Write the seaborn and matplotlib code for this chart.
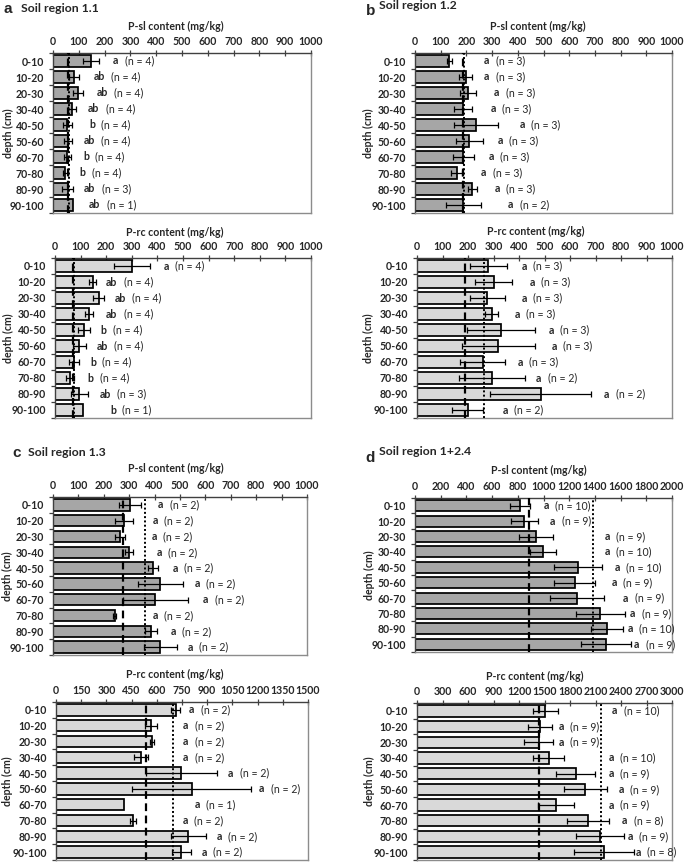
import numpy as np
import pandas as pd
import matplotlib
matplotlib.use("Agg")
import matplotlib.pyplot as plt
import seaborn as sns

# ---------------- data ----------------
depths = ["0-10", "10-20", "20-30", "30-40", "40-50", "50-60", "60-70", "70-80", "80-90", "90-100"]

# Panel a: Soil region 1.1
a_sl = [146, 82, 97, 74, 56, 58, 56, 47, 57, 78]
a_sl_err = [31, 19, 18, 14, 17, 14, 15, 10, 21, 0]
a_sl_let = ["a", "ab", "ab", "ab", "b", "ab", "b", "b", "ab", "ab"]
a_sl_n = [4, 4, 4, 4, 4, 4, 4, 4, 3, 1]
a_sl_lab = [233, 158, 168, 136, 140, 119, 117, 104, 121, 140]
a_sl_ref = (58, 62)

a_rc = [302, 147, 170, 133, 113, 95, 74, 59, 95, 108]
a_rc_err = [70, 15, 20, 16, 22, 25, 19, 15, 32, 0]
a_rc_let = ["a", "ab", "ab", "ab", "b", "ab", "b", "b", "ab", "b"]
a_rc_n = [4, 4, 4, 4, 4, 4, 4, 4, 3, 1]
a_rc_lab = [424, 199, 232, 199, 179, 163, 137, 126, 173, 215]
a_rc_ref = (70, 73)

# Panel b: Soil region 1.2
b_sl = [134, 197, 206, 188, 238, 212, 188, 162, 223, 188]
b_sl_err = [10, 26, 32, 35, 85, 53, 42, 20, 18, 69]
b_sl_let = ["a"] * 10
b_sl_n = [3, 3, 3, 3, 3, 3, 3, 3, 3, 2]
b_sl_lab = [269, 269, 308, 295, 406, 321, 286, 257, 310, 362]
b_sl_ref = (186, 191)

b_rc = [280, 300, 276, 293, 330, 319, 257, 293, 485, 199]
b_rc_err = [74, 74, 70, 26, 133, 143, 90, 129, 198, 60]
b_rc_let = ["a"] * 10
b_rc_n = [3, 3, 3, 3, 3, 3, 3, 2, 2, 2]
b_rc_lab = [411, 441, 411, 382, 515, 528, 394, 467, 733, 336]
b_rc_ref = (190, 263)

# Panel c: Soil region 1.3
c_sl = [302, 278, 265, 299, 394, 423, 402, 243, 387, 423]
c_sl_err = [44, 35, 20, 15, 20, 90, 128, 5, 24, 65]
c_sl_let = ["a"] * 10
c_sl_n = [2] * 10
c_sl_lab = [413, 391, 387, 407, 470, 558, 591, 391, 462, 531]
c_sl_ref = (276, 362)

c_rc = [713, 565, 571, 505, 747, 807, 406, 460, 787, 745]
c_rc_err = [27, 37, 12, 40, 212, 352, 0, 17, 105, 56]
c_rc_let = ["a"] * 10
c_rc_n = [2, 2, 2, 2, 2, 2, 1, 2, 2, 2]
c_rc_lab = [793, 757, 757, 757, 1025, 1209, 826, 753, 955, 866]
c_rc_ref = (535, 698)

# Panel d: Soil region 1+2.4
d_sl = [818, 852, 943, 995, 1268, 1242, 1260, 1442, 1494, 1486]
d_sl_err = [75, 108, 130, 100, 190, 158, 208, 192, 127, 192]
d_sl_let = ["a"] * 10
d_sl_n = [10, 9, 9, 10, 10, 9, 9, 9, 10, 9]
d_sl_lab = [1000, 1052, 1473, 1473, 1551, 1532, 1618, 1675, 1655, 1706]
d_sl_ref = (891, 1384)

d_rc = [1510, 1451, 1431, 1549, 1867, 1980, 1635, 2008, 2149, 2196]
d_rc_err = [150, 140, 172, 184, 232, 255, 212, 245, 284, 353]
d_rc_let = ["a"] * 10
d_rc_n = [10, 9, 9, 10, 9, 9, 9, 8, 9, 8]
d_rc_lab = [2294, 1667, 1667, 2255, 2255, 2373, 2255, 2412, 2478, 2569]
d_rc_ref = (1439, 2165)

# ---------------- style ----------------
sns.set_theme(style="white")
plt.rcParams["font.family"] = ["Lato", "DejaVu Sans"]
plt.rcParams["axes.linewidth"] = 1.0

W, H = 685, 864
fig = plt.figure(figsize=(W / 100, H / 100), dpi=100)

SL_COLOR = "#a6a6a6"
RC_COLOR = "#d9d9d9"
FS = 7.6


def px_axes(l, r, t, b):
    return [l / W, 1 - b / H, (r - l) / W, (b - t) / H]


def draw_panel(box, vals, errs, lets, ns, labx, refs, xmax, step, color, xlabel,
               xlab_cx, xlab_dy, ylab_x):
    l, r, t, b = box
    ax = fig.add_axes(px_axes(l, r, t, b))
    df = pd.DataFrame({"depth": depths, "value": vals})
    sns.barplot(data=df, x="value", y="depth", orient="h", color=color,
                saturation=1, width=0.72, edgecolor="black", linewidth=1.25,
                errorbar=None, ax=ax)
    ypos = np.arange(len(depths))
    mask = np.array(errs) > 0
    ax.errorbar(np.array(vals)[mask], ypos[mask], xerr=np.array(errs)[mask],
                fmt="none", ecolor="black", elinewidth=0.9, capsize=2,
                capthick=0.9, zorder=4)
    ax.axvline(refs[0], color="black", lw=1.6, ls=(0, (3.5, 2)), zorder=5)
    ax.axvline(refs[1], color="black", lw=1.4, ls=(0, (1, 1.2)), zorder=5)

    for y, x, let, n in zip(ypos, labx, lets, ns):
        t1 = ax.text(x, y, let, fontsize=FS, fontweight="bold", va="center",
                     ha="left", zorder=6)
        ax.annotate(f"(n = {n})", xy=(1, 0.5), xycoords=t1, xytext=(4.5, 0),
                    textcoords="offset points", fontsize=FS, va="center",
                    ha="left", zorder=6)

    ax.set_xlim(0, xmax)
    ax.set_ylim(len(depths) - 0.5, -0.5)
    ax.xaxis.tick_top()
    ax.xaxis.set_label_position("top")
    ticks = np.arange(0, xmax + 1, step)
    ax.set_xticks(ticks)
    ax.set_xticklabels([str(int(v)) for v in ticks], fontweight="bold", fontsize=FS)
    ax.tick_params(axis="x", which="major", top=True, bottom=False,
                   direction="inout", length=4, width=0.9, pad=2.5,
                   color="#404040")
    ax.set_yticks(np.arange(-0.5, len(depths), 1))
    ax.set_yticklabels([])
    ax.set_yticks(ypos, minor=True)
    ax.set_yticklabels(depths, minor=True, fontweight="bold", fontsize=FS)
    ax.tick_params(axis="y", which="major", left=True, direction="out",
                   length=3, width=0.9, color="#404040")
    ax.tick_params(axis="y", which="minor", left=True, length=0, pad=6.5)

    ax.set_xlabel(xlabel, fontweight="bold", fontsize=FS)
    ax.xaxis.set_label_coords((xlab_cx - l) / (r - l), 1 + xlab_dy / (b - t))
    ax.set_ylabel("depth (cm)", fontweight="bold", fontsize=FS)
    ax.yaxis.set_label_coords((ylab_x - l) / (r - l), 0.5)
    ax.xaxis.label.set_va("center")
    ax.yaxis.label.set_va("center")

    for side in ["left", "top"]:
        ax.spines[side].set_color("#404040")
    for side in ["right", "bottom"]:
        ax.spines[side].set_color("#8c8c8c")
    ax.grid(False)
    return ax


# Panel a
draw_panel((53, 311, 53, 213), a_sl, a_sl_err, a_sl_let, a_sl_n, a_sl_lab, a_sl_ref,
           1000, 100, SL_COLOR, "P-sl content (mg/kg)", 176, 27, 8)
draw_panel((55, 311, 258, 418), a_rc, a_rc_err, a_rc_let, a_rc_n, a_rc_lab, a_rc_ref,
           1000, 100, RC_COLOR, "P-rc content (mg/kg)", 175, 26, 8)
# Panel b
draw_panel((415, 672, 53, 213), b_sl, b_sl_err, b_sl_let, b_sl_n, b_sl_lab, b_sl_ref,
           1000, 100, SL_COLOR, "P-sl content (mg/kg)", 538, 27, 368)
draw_panel((417, 672, 258, 418), b_rc, b_rc_err, b_rc_let, b_rc_n, b_rc_lab, b_rc_ref,
           1000, 100, RC_COLOR, "P-rc content (mg/kg)", 536, 27, 368)
# Panel c
draw_panel((53, 307, 497, 655), c_sl, c_sl_err, c_sl_let, c_sl_n, c_sl_lab, c_sl_ref,
           1000, 100, SL_COLOR, "P-sl content (mg/kg)", 176, 29, 7)
draw_panel((56, 308, 702, 860), c_rc, c_rc_err, c_rc_let, c_rc_n, c_rc_lab, c_rc_ref,
           1500, 150, RC_COLOR, "P-rc content (mg/kg)", 175, 28, 7)
# Panel d
draw_panel((415, 672, 498, 652), d_sl, d_sl_err, d_sl_let, d_sl_n, d_sl_lab, d_sl_ref,
           2000, 200, SL_COLOR, "P-sl content (mg/kg)", 539, 28, 369)
draw_panel((417, 672, 703, 860), d_rc, d_rc_err, d_rc_let, d_rc_n, d_rc_lab, d_rc_ref,
           3000, 300, RC_COLOR, "P-rc content (mg/kg)", 535, 27, 369)

# Panel titles
def ftext(x, y, s, **kw):
    fig.text(x / W, 1 - y / H, s, va="baseline", ha="left", **kw)

ftext(3, 13, "a", fontsize=11, fontweight="bold", family=["Liberation Sans", "DejaVu Sans"])
ftext(21, 12, "Soil region 1.1", fontsize=8.8, fontweight="bold")
ftext(366, 15, "b", fontsize=11, fontweight="bold", family=["Liberation Sans", "DejaVu Sans"])
ftext(379, 9, "Soil region 1.2", fontsize=8.8, fontweight="bold")
ftext(12, 457, "c", fontsize=11, fontweight="bold", family=["Liberation Sans", "DejaVu Sans"])
ftext(28, 456, "Soil region 1.3", fontsize=8.8, fontweight="bold")
ftext(365, 462, "d", fontsize=11, fontweight="bold", family=["Liberation Sans", "DejaVu Sans"])
ftext(379, 455, "Soil region 1+2.4", fontsize=8.8, fontweight="bold")

fig.savefig("out.png", dpi=100)
